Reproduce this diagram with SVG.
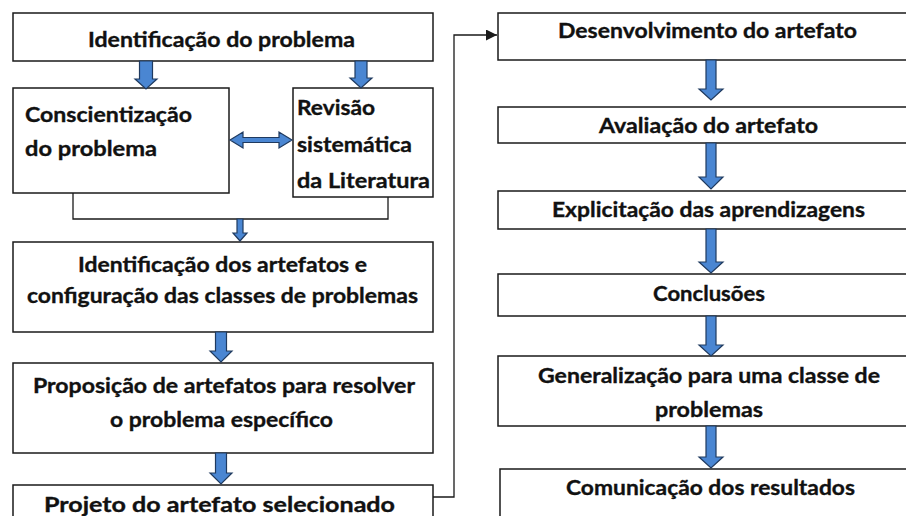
<svg xmlns="http://www.w3.org/2000/svg" width="906" height="516" viewBox="0 0 906 516">
<style>
.box{fill:#fff;stroke:#1a1a1a;stroke-width:1.5}
.t{font-family:Lato,"Open Sans","Liberation Sans",sans-serif;font-weight:700;font-size:21.5px;fill:#111;stroke:#111;stroke-width:0.35}
.blk{fill:#4a86d2;stroke:#1f3a5f;stroke-width:1.2;stroke-linejoin:miter}
.ln{fill:none;stroke:#1a1a1a;stroke-width:1.3}
</style>
<defs>
<marker id="ah" viewBox="0 0 12 12" refX="12" refY="6" markerWidth="12" markerHeight="11" markerUnits="userSpaceOnUse" orient="auto">
<path d="M0 0 L12 6 L0 12 Z" fill="#1a1a1a"/>
</marker>
</defs>
<rect width="906" height="516" fill="#fff"/>

<g id="n1"><rect class="box" x="13" y="13" width="420" height="48"/>
<text class="t" x="88" y="47" textLength="267" lengthAdjust="spacingAndGlyphs">Identificação do problema</text></g>

<g id="n2"><rect class="box" x="13" y="88" width="216" height="105"/>
<text class="t" x="25" y="122" textLength="167" lengthAdjust="spacingAndGlyphs">Conscientização</text>
<text class="t" x="25" y="156" textLength="132" lengthAdjust="spacingAndGlyphs">do problema</text></g>

<g id="n3"><rect class="box" x="293" y="88" width="140" height="109"/>
<text class="t" x="297" y="115" textLength="78" lengthAdjust="spacingAndGlyphs">Revisão</text>
<text class="t" x="297" y="152" textLength="115" lengthAdjust="spacingAndGlyphs">sistemática</text>
<text class="t" x="297" y="188" textLength="133" lengthAdjust="spacingAndGlyphs">da Literatura</text></g>

<g id="n4"><rect class="box" x="13" y="242" width="420" height="90"/>
<text class="t" x="78" y="272" textLength="289" lengthAdjust="spacingAndGlyphs">Identificação dos artefatos e</text>
<text class="t" x="27" y="303" textLength="391" lengthAdjust="spacingAndGlyphs">configuração das classes de problemas</text></g>

<g id="n5"><rect class="box" x="13" y="363" width="420" height="90"/>
<text class="t" x="33" y="393" textLength="382" lengthAdjust="spacingAndGlyphs">Proposição de artefatos para resolver</text>
<text class="t" x="110" y="427" textLength="223" lengthAdjust="spacingAndGlyphs">o problema específico</text></g>

<g id="n6"><rect class="box" x="13" y="485" width="420" height="50"/>
<text class="t" x="44" y="512" textLength="351" lengthAdjust="spacingAndGlyphs">Projeto do artefato selecionado</text></g>

<g id="r1"><rect class="box" x="498" y="13" width="430" height="47"/>
<text class="t" x="558" y="38" textLength="299" lengthAdjust="spacingAndGlyphs">Desenvolvimento do artefato</text></g>

<g id="r2"><rect class="box" x="498" y="107" width="430" height="36"/>
<text class="t" x="599" y="133" textLength="219" lengthAdjust="spacingAndGlyphs">Avaliação do artefato</text></g>

<g id="r3"><rect class="box" x="498" y="191" width="430" height="38"/>
<text class="t" x="552" y="217" textLength="313" lengthAdjust="spacingAndGlyphs">Explicitação das aprendizagens</text></g>

<g id="r4"><rect class="box" x="498" y="274" width="430" height="42"/>
<text class="t" x="653" y="301" textLength="112" lengthAdjust="spacingAndGlyphs">Conclusões</text></g>

<g id="r5"><rect class="box" x="498" y="356" width="430" height="70"/>
<text class="t" x="538" y="383" textLength="342" lengthAdjust="spacingAndGlyphs">Generalização para uma classe de</text>
<text class="t" x="655" y="417" textLength="108" lengthAdjust="spacingAndGlyphs">problemas</text></g>

<g id="r6"><rect class="box" x="500" y="469" width="430" height="60"/>
<text class="t" x="566" y="495" textLength="289" lengthAdjust="spacingAndGlyphs">Comunicação dos resultados</text></g>

<g id="connectors">
<path class="ln" d="M73 193 V219 H388 V197"/>
<path class="ln" d="M433 497 H454 V35 H497" marker-end="url(#ah)"/>
<path class="blk" d="M139.5 61 H152.5 V79 H157 L146 89 L135 79 H139.5 Z"/>
<path class="blk" d="M355 61 H367 V78 H372 L361 88 L350 78 H355 Z"/>
<path class="blk" d="M230 140 L243 132 V137.5 H279 V132 L292 140 L279 148 V142.5 H243 V148 Z"/>
<path class="blk" d="M237 219 H243 V233 H247 L240 241 L233 233 H237 Z"/>
<path class="blk" d="M215.5 332 H226.5 V351 H232 L221 362 L210 351 H215.5 Z"/>
<path class="blk" d="M215.5 453 H226.5 V473 H232 L221 484 L210 473 H215.5 Z"/>
<path class="blk" d="M706 60 H716 V89 H723 L711 100 L699 89 H706 Z"/>
<path class="blk" d="M706 143 H716 V177 H723 L711 189 L699 177 H706 Z"/>
<path class="blk" d="M706 229 H716 V262 H723 L711 273 L699 262 H706 Z"/>
<path class="blk" d="M706 316 H716 V345 H723 L711 356 L699 345 H706 Z"/>
<path class="blk" d="M706 426 H716 V457 H723 L711 468 L699 457 H706 Z"/>
</g>
</svg>
